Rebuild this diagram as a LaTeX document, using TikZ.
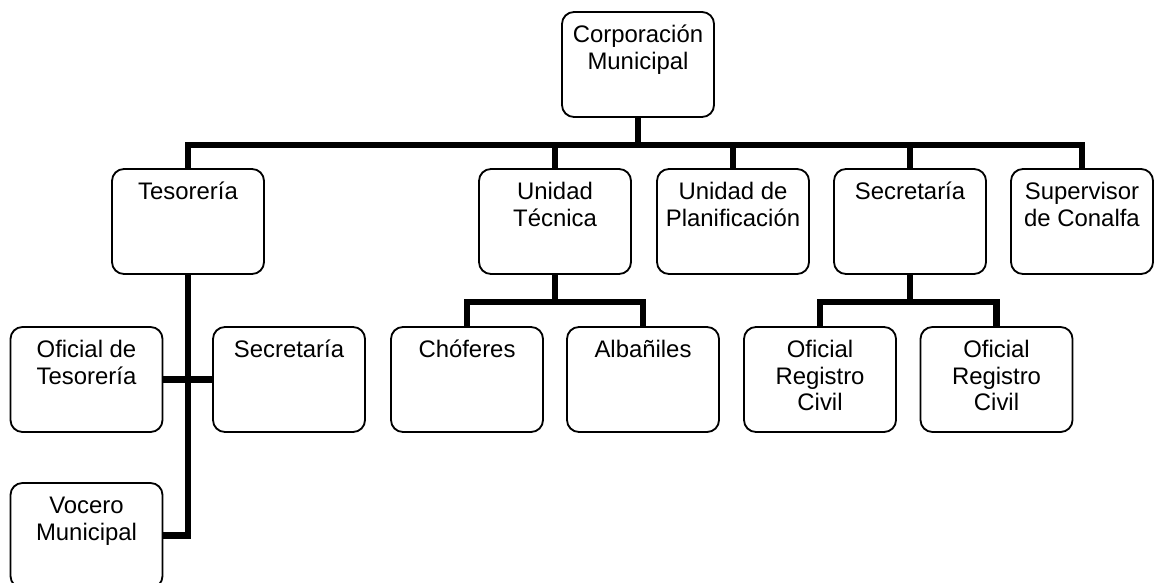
\documentclass[tikz,border=0pt]{standalone}
\usepackage{fontspec}
\setmainfont{Liberation Sans}
\usepackage{tikz}
\usetikzlibrary{calc}
\def\orgtext#1{\parbox[c][2.625cm][t]{3.5cm}{\centering\vspace*{0.29cm}\strut #1}}
\tikzset{
	orgbox/.style={draw, line width=1.3pt, rounded corners=0.3cm, inner sep=0pt, minimum width=3.8cm, minimum height=2.625cm, font=\fontsize{17pt}{19pt}\selectfont},
	link/.style={line width=4.3pt}
}

\begin{document}
\begin{tikzpicture}[x=0.025cm, y=-0.025cm]
			%%%%% START %%%%%
			
			\useasboundingbox (0, 0) rectangle (1155, 583);
			
			\node[orgbox] (corp) at (638, 64.5) {\orgtext{Corporación\\Municipal}};
			
			\node[orgbox] (tes) at (188, 221.5) {\orgtext{Tesorería}};
			\node[orgbox] (ut) at (555, 221.5) {\orgtext{Unidad\\Técnica}};
			\node[orgbox] (plan) at (733, 221.5) {\orgtext{Unidad de\\Planificación}};
			\node[orgbox] (sec) at (910, 221.5) {\orgtext{Secretaría}};
			\node[orgbox, minimum width=3.55cm] (sup) at (1082, 221.5) {\orgtext{Supervisor\\de Conalfa}};
			
			\node[orgbox] (oft) at (86.5, 379.5) {\orgtext{Oficial de\\Tesorería}};
			\node[orgbox] (sec2) at (289, 379.5) {\orgtext{Secretaría}};
			\node[orgbox] (voc) at (86.5, 535.5) {\orgtext{Vocero\\Municipal}};
			
			\node[orgbox] (cho) at (467, 379.5) {\orgtext{Chóferes}};
			\node[orgbox] (alb) at (643, 379.5) {\orgtext{Albañiles}};
			\node[orgbox] (rc1) at (820, 379.5) {\orgtext{Oficial\\Registro\\Civil}};
			\node[orgbox] (rc2) at (996.5, 379.5) {\orgtext{Oficial\\Registro\\Civil}};
			
			% main bar
			\coordinate (bus) at (638, 145);
			\draw[link] (corp.south) -- (bus);
			\draw[link] (tes.north) |- (bus) -| (sup.north);
			\draw[link] (ut.north) -- (ut.north |- bus);
			\draw[link] (plan.north) -- (plan.north |- bus);
			\draw[link] (sec.north) -- (sec.north |- bus);
			
			% tesoreria
			\draw[link] (tes.south) |- (voc.east);
			\draw[link] (oft.east) -- (sec2.west);
			
			% unidad tecnica
			\coordinate (utbus) at (555, 302);
			\draw[link] (ut.south) -- (utbus);
			\draw[link] (cho.north) |- (utbus) -| (alb.north);
			
			% secretaria
			\coordinate (secbus) at (910, 302);
			\draw[link] (sec.south) -- (secbus);
			\draw[link] (rc1.north) |- (secbus) -| (rc2.north);
			
			%%%%% END %%%%%
		\end{tikzpicture}
\end{document}
